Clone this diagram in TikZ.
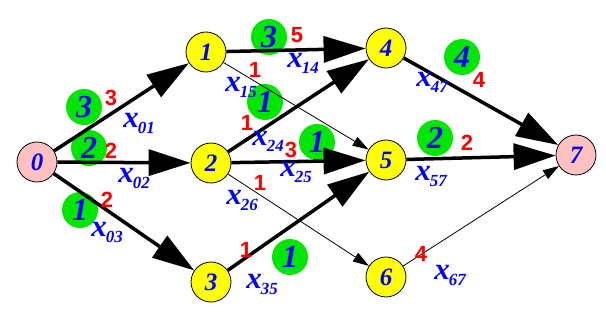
\documentclass[tikz,border=0pt]{standalone}
\usepackage{fontspec}
\setmainfont{Liberation Serif}
\newfontfamily\capfont{Liberation Sans}
\usetikzlibrary{arrows.meta}
\definecolor{netYellow}{HTML}{FFFF00}
\definecolor{netPink}{HTML}{FFC0C0}
\definecolor{netGreen}{HTML}{00E600}
\definecolor{netBlue}{HTML}{0000FF}
\definecolor{netRed}{HTML}{FF0000}
\newcommand{\xvar}[1]{x\kern-1pt\raisebox{-6pt}{\fontsize{17}{17}\selectfont #1}}
\tikzset{
  net node/.style={circle, draw=black, line width=0.8pt, fill=netYellow, minimum size=40pt, inner sep=0pt, font=\fontsize{25}{25}\selectfont\bfseries\itshape, text=netBlue},
  net end/.style={net node, fill=netPink},
  net flow/.style={circle, fill=netGreen, minimum size=36pt, inner sep=0pt, font=\fontsize{32}{32}\selectfont\bfseries\itshape, text=netBlue},
  net cap/.style={inner sep=0pt, font=\capfont\fontsize{22}{22}\selectfont\bfseries, text=netRed},
  net var/.style={inner sep=0pt, font=\fontsize{31}{31}\selectfont\bfseries\itshape, text=netBlue},
  net thick/.style={line width=3.5pt, -{Triangle[length=42pt, width=26pt]}},
  net thin/.style={line width=0.8pt, -{Triangle[length=16pt, width=10pt]}},
}

\begin{document}
\begin{tikzpicture}[x=1pt, y=-1pt]
  \useasboundingbox (0,0) rectangle (606,321);
  % Network nodes
  \node[net end]  (n0) at (37,162)  {0};
  \node[net node] (n1) at (206,52)  {1};
  \node[net node] (n2) at (211,163) {2};
  \node[net node] (n3) at (211,282) {3};
  \node[net node] (n4) at (386,48)  {4};
  \node[net node] (n5) at (386,160) {5};
  \node[net node] (n6) at (386,277) {6};
  \node[net end]  (n7) at (576,155) {7};
  % Flow values in green discs
  \node[net flow] (f01) at (84,107)  {3};
  \node[net flow] (f02) at (89,148)  {2};
  \node[net flow] (f03) at (80,210)  {1};
  \node[net flow] (f14) at (269,37)  {3};
  \node[net flow] (f24) at (265,102) {1};
  \node[net flow] (f25) at (317,142) {1};
  \node[net flow] (f35) at (290,257) {1};
  \node[net flow] (f47) at (462,57)  {4};
  \node[net flow] (f57) at (435,138) {2};
  % Arcs: thick ones carry flow, thin ones are empty
  \draw[net thick] (n0) -- (n1);
  \draw[net thick] (n0) -- (n2);
  \draw[net thick] (n0) -- (n3);
  \draw[net thick] (n1) -- (n4);
  \draw[net thin]  (n1) -- (n5);
  \draw[net thick] (n2) -- (n4);
  \draw[net thick] (n2) -- (n5);
  \draw[net thin]  (n2) -- (n6);
  \draw[net thick] (n3) -- (n5);
  \draw[net thick] (n4) -- (n7);
  \draw[net thick] (n5) -- (n7);
  \draw[net thin]  (n6) -- (n7);
  % Capacities
  \node[net cap] (c01) at (111,98)  {3};
  \node[net cap] (c02) at (111,151) {2};
  \node[net cap] (c03) at (107,200) {2};
  \node[net cap] (c14) at (297,35)  {5};
  \node[net cap] (c15) at (255,70)  {1};
  \node[net cap] (c24) at (247,123) {1};
  \node[net cap] (c25) at (291,150) {3};
  \node[net cap] (c26) at (260,183) {1};
  \node[net cap] (c35) at (246,250) {1};
  \node[net cap] (c47) at (479,80)  {4};
  \node[net cap] (c57) at (467,143) {2};
  \node[net cap] (c67) at (421,254) {4};
  % Arc variables
  \node[net var] (x01) at (139,123) {\xvar{01}};
  \node[net var] (x02) at (134,178) {\xvar{02}};
  \node[net var] (x03) at (107,232) {\xvar{03}};
  \node[net var] (x14) at (303,63)  {\xvar{14}};
  \node[net var] (x15) at (241,87)  {\xvar{15}};
  \node[net var] (x24) at (268,141) {\xvar{24}};
  \node[net var] (x25) at (296,172) {\xvar{25}};
  \node[net var] (x26) at (242,200) {\xvar{26}};
  \node[net var] (x35) at (262,284) {\xvar{35}};
  \node[net var] (x47) at (432,82)  {\xvar{47}};
  \node[net var] (x57) at (431,176) {\xvar{57}};
  \node[net var] (x67) at (450,275) {\xvar{67}};
\end{tikzpicture}
\end{document}
